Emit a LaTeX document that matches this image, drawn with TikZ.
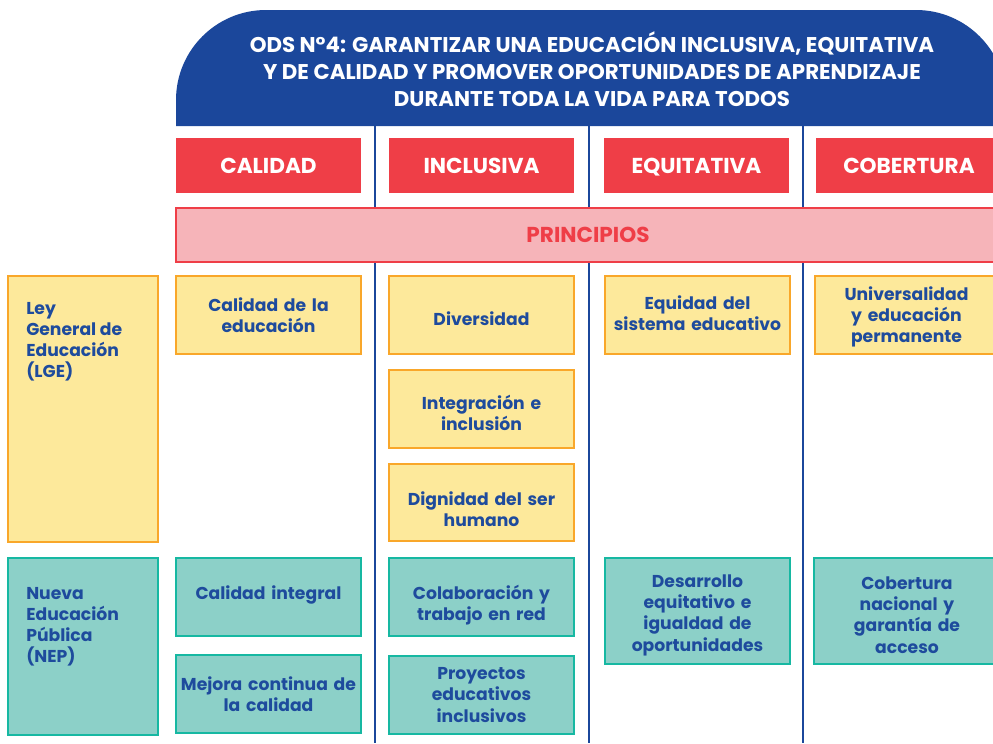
\documentclass[tikz,border=0pt]{standalone}
\usepackage{fontspec}
\setmainfont{Poppins}
\definecolor{odsblue}{HTML}{1B479B}
\definecolor{txtblue}{HTML}{1E4B9D}
\definecolor{odsred}{HTML}{EF3E47}
\definecolor{odspink}{HTML}{F6B4B9}
\definecolor{yfill}{HTML}{FDE99B}
\definecolor{ydraw}{HTML}{F9A72A}
\definecolor{tfill}{HTML}{8CD0C8}
\definecolor{tdraw}{HTML}{16B8A2}
\tikzset{
  ybox/.style={rectangle, inner sep=0pt, fill=yfill, draw=ydraw, line width=2pt},
  tbox/.style={rectangle, inner sep=0pt, fill=tfill, draw=tdraw, line width=2pt},
  boxtext/.style={inner sep=0pt, align=center, text=txtblue,
    font=\bfseries\fontsize{12.9}{16}\selectfont, text width=136pt},
  redbox/.style={rectangle, inner sep=0pt, fill=odsred, text=white,
    text height=14.5pt, text depth=3pt,
    font=\bfseries\fontsize{16.2}{19}\selectfont},
  band/.style={rectangle, inner sep=0pt, fill=odspink, draw=odsred, line width=1.5pt,
    text=odsred, font=\bfseries\fontsize{16.2}{19}\selectfont},
  vline/.style={draw=odsblue, line width=1.8pt},
  sidetext/.style={anchor=north west, inner sep=0pt, align=left, text=txtblue,
    font=\bfseries\fontsize{12.9}{15.8}\selectfont}
}
% simple box with its own text
\newcommand\bx[7]{\node[#2, minimum width={(#5-#3)*0.75pt}, minimum height={(#6-#4)*0.75pt}] (#1) at ({(#3+#5)/2},{(#4+#6)/2}) {#7};}
% box plus text node shifted vertically by #7 px
\newcommand\tb[8]{\node[#2, minimum width={(#5-#3)*0.75pt}, minimum height={(#6-#4)*0.75pt}] (#1) at ({(#3+#5)/2},{(#4+#6)/2}) {};
  \node[boxtext] (#1-t) at ({(#3+#5)/2},{(#4+#6)/2+#7}) {#8};}
\begin{document}
\begin{tikzpicture}[x=0.75pt,y=-0.75pt]
\useasboundingbox (0,0) rectangle (993,743);
\clip (0,0) rectangle (993,743);
% header shape
\fill[odsblue] (176,126) -- (176,100) arc[start angle=180, end angle=90, radius=67.5pt]
  -- (916,10) arc[start angle=90, end angle=0, radius=67.5pt] -- (1006,126) -- cycle;
\node[text=white, align=center, font=\bfseries\fontsize{16}{20}\selectfont] (title) at (592,69)
  {ODS N°4: GARANTIZAR UNA EDUCACIÓN INCLUSIVA, EQUITATIVA\\
   Y DE CALIDAD Y PROMOVER OPORTUNIDADES DE APRENDIZAJE\\
   DURANTE TODA LA VIDA PARA TODOS};
% vertical column lines
\coordinate (l1t) at (375,124); \coordinate (l1b) at (375,743);
\coordinate (l2t) at (589,124); \coordinate (l2b) at (589,743);
\coordinate (l3t) at (803,124); \coordinate (l3b) at (803,743);
\draw[vline] (l1t) -- (l1b);
\draw[vline] (l2t) -- (l2b);
\draw[vline] (l3t) -- (l3b);
% red headers
\bx{calidad}{redbox}{176}{138}{361}{193}{CALIDAD}
\bx{inclusiva}{redbox}{389}{138}{574}{193}{INCLUSIVA}
\bx{equitativa}{redbox}{604}{138}{789}{193}{EQUITATIVA}
\bx{cobertura}{redbox}{816}{138}{1002}{193}{COBERTURA}
% principios band
\bx{principios}{band}{176}{208}{1000}{262}{PRINCIPIOS}
% LGE row
\bx{lge}{ybox}{8}{276}{158}{542}{}
\node[sidetext] (lgetext) at (26,302) {Ley\\General de\\Educación\\(LGE)};
\tb{caledu}{ybox}{176}{276}{361}{354}{0}{Calidad de la\\educación}
\tb{divers}{ybox}{389}{276}{574}{354}{4}{Diversidad}
\tb{integ}{ybox}{389}{370}{574}{448}{4}{Integración e\\inclusión}
\tb{dign}{ybox}{389}{464}{574}{541}{7}{Dignidad del ser\\humano}
\tb{equid}{ybox}{605}{276}{790}{354}{-2}{Equidad del\\sistema educativo}
\tb{univ}{ybox}{815}{276}{998}{354}{2}{Universalidad\\y educación\\permanente}
% NEP row
\bx{nep}{tbox}{8}{558}{158}{735}{}
\node[sidetext] (neptext) at (26,587) {Nueva\\Educación\\Pública\\(NEP)};
\tb{calint}{tbox}{176}{558}{361}{636}{-2}{Calidad integral}
\tb{mejora}{tbox}{176}{655}{361}{733}{0}{Mejora continua de\\la calidad}
\tb{colab}{tbox}{389}{558}{574}{636}{8}{Colaboración y\\trabajo en red}
\tb{proy}{tbox}{389}{656}{574}{734}{0}{Proyectos\\educativos\\inclusivos}
\tb{desarr}{tbox}{605}{558}{790}{664}{4}{Desarrollo\\equitativo e\\igualdad de\\oportunidades}
\tb{cobnac}{tbox}{814}{558}{1000}{664}{4}{Cobertura\\nacional y\\garantía de\\acceso}
\end{tikzpicture}
\end{document}
